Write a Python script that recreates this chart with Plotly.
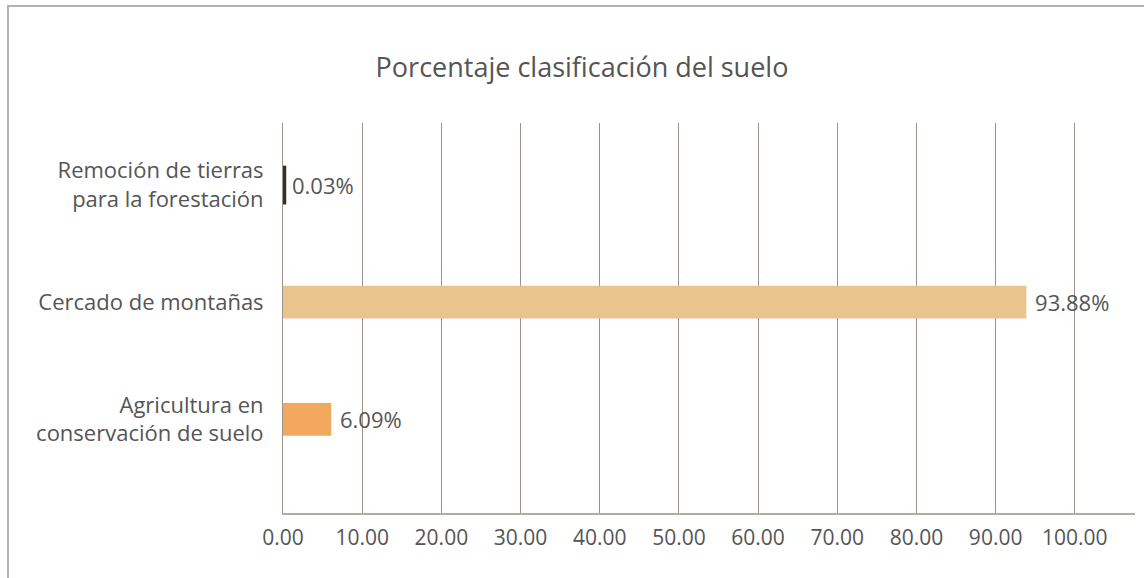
import plotly.graph_objects as go

# Land classification shares (percent), listed bottom to top
categories = [
    "Agricultura en<br>conservación de suelo",
    "Cercado de montañas",
    "Remoción de tierras<br>para la forestación",
]
values = [6.09, 93.88, 0.03]
bar_colors = ["#f2a85e", "#e9c48c", "#33302a"]
tick_vals = [0, 10, 20, 30, 40, 50, 60, 70, 80, 90, 100]
tick_text = ["0.00", "10.00", "20.00", "30.00", "40.00", "50.00",
             "60.00", "70.00", "80.00", "90.00", "100.00"]

FONT = "Open Sans"
TEXT_COLOR = "#555555"
GRID_COLOR = "#9c918d"

fig = go.Figure()
fig.add_trace(go.Bar(
    y=[0, 1, 2],
    x=values,
    orientation="h",
    width=0.28,
    marker=dict(color=bar_colors,
                line=dict(color=bar_colors, width=[0, 0, 6])),
    text=[f"\u00a0{v:.2f}%" for v in values],
    textposition="outside",
    textfont=dict(family=FONT, size=22, color=TEXT_COLOR),
    cliponaxis=False,
    hoverinfo="skip",
))

fig.update_layout(
    width=1144, height=578,
    margin=dict(l=283, r=9, t=123, b=65),
    paper_bgcolor="white",
    plot_bgcolor="white",
    showlegend=False,
    title=dict(
        text="Porcentaje clasificación del suelo",
        x=582 / 1144, xanchor="center",
        y=1 - 68 / 578, yanchor="middle",
        font=dict(family=FONT, size=27, color=TEXT_COLOR),
    ),
    xaxis=dict(
        range=[0, 107.6],
        tickvals=tick_vals,
        ticktext=tick_text,
        tickfont=dict(family=FONT, size=21, color=TEXT_COLOR),
        showgrid=True, gridcolor=GRID_COLOR, gridwidth=1,
        zeroline=False,
        showline=True, linecolor="#b5aaa6", linewidth=2,
        ticks="", ticklen=0, ticklabelstandoff=5,
    ),
    yaxis=dict(
        range=[-0.8, 2.53],
        tickvals=[0, 1, 2],
        ticktext=categories,
        tickfont=dict(family=FONT, size=22, color=TEXT_COLOR),
        showgrid=False, zeroline=False,
        showline=True, linecolor=GRID_COLOR, linewidth=1,
        ticks="", ticklabelstandoff=14,
    ),
    shapes=[dict(
        type="rect", xref="paper", yref="paper",
        x0=(8 - 283) / 852, x1=1.05,
        y0=-0.25, y1=1 + (123 - 6) / 390,
        line=dict(color="#b3b3b3", width=2),
        fillcolor="rgba(0,0,0,0)",
        layer="below",
    )],
)

fig.write_html("out.html")
